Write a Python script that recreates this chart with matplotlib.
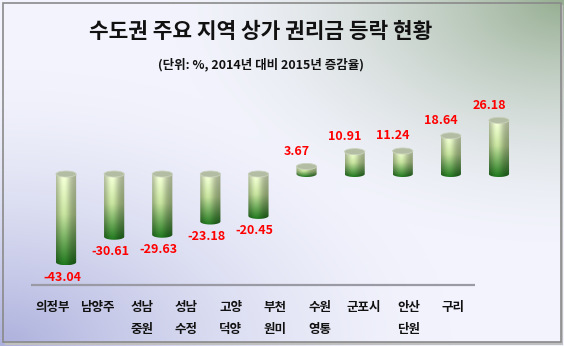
import numpy as np
import matplotlib
matplotlib.use("Agg")
import matplotlib.pyplot as plt
from matplotlib.path import Path
from matplotlib.patches import PathPatch, Ellipse, Rectangle

plt.rcParams['font.family'] = ['Noto Sans CJK KR', 'DejaVu Sans']

title = "수도권 주요 지역 상가 권리금 등락 현황"
subtitle = "(단위: %, 2014년 대비 2015년 증감율)"
regions = ["의정부", "남양주", "성남\n중원", "성남\n수정", "고양\n덕양",
           "부천\n원미", "수원\n영통", "군포시", "안산\n단원", "구리"]
values = [-43.04, -30.61, -29.63, -23.18, -20.45, 3.67, 10.91, 11.24, 18.64, 26.18]

W, H = 564, 346
fig = plt.figure(figsize=(W / 100, H / 100), dpi=100)

# background gradient
bg = fig.add_axes([0, 0, 1, 1])
bg.set_xlim(0, W)
bg.set_ylim(H, 0)
bg.axis('off')
yy, xx = np.mgrid[0:H, 0:W]
base = np.array([242, 243, 252], float)
green = np.array([150, 174, 145], float)
blue = np.array([172, 176, 220], float)
d_tr = np.hypot((xx - W) / W, yy / H)
d_bl = np.hypot(xx / W, (H - yy) / H)
wg = np.clip(1 - d_tr / 0.7, 0, 1) ** 1.7
wb = np.clip(1 - d_bl / 0.8, 0, 1) ** 1.6
img = base * (1 - wg[..., None]) + green * wg[..., None]
img = img * (1 - wb[..., None]) + blue * wb[..., None]
bg.imshow(img / 255, extent=[0, W, H, 0], aspect='auto', zorder=0)
bg.add_patch(Rectangle((5, 5), 558, 340, facecolor='#c0c0c0', edgecolor='none', zorder=1))
bg.imshow(img[3:342, 3:561] / 255, extent=[3, 561, 342, 3], aspect='auto', zorder=2)
bg.add_patch(Rectangle((3, 3), 558, 339, facecolor='none', edgecolor='#8a8a8a', lw=1.2, zorder=3))

bg.text(261, 32, title, ha='center', va='center', fontsize=15.4, fontweight='bold', color='#111111', zorder=5)
bg.text(261, 65, subtitle, ha='center', va='center', fontsize=9, fontweight='bold', color='#111111', zorder=5)

# bars
ax = fig.add_axes([42 / W, (H - 286.75) / H, 481 / W, 205 / H])
ax.set_xlim(-0.5, 9.5)
ax.set_ylim(-55, 45)
ax.axis('off')
ax.patch.set_alpha(0)

bw = 0.42
eh = 3.0 / 2.05  # ellipse half height in data units

top_c = np.array([232, 243, 205]) / 255
mid_c = np.array([186, 212, 148]) / 255
bot_c = np.array([30, 112, 28]) / 255
n = 200
t = np.linspace(0, 1, n)[:, None]
col = np.where(t < 0.45, top_c + (mid_c - top_c) * (t / 0.45),
               mid_c + (bot_c - mid_c) * ((t - 0.45) / 0.55))
u = np.linspace(0, 1, 60)
shade = 0.72 + 0.36 * np.exp(-((u - 0.38) / 0.3) ** 2)
grad = np.clip(col[:, None, :] * shade[None, :, None], 0, 1)

for i, v in enumerate(values):
    top, bot = max(v, 0), min(v, 0)
    x0, x1 = i - bw / 2, i + bw / 2
    th = np.linspace(np.pi, 2 * np.pi, 30)
    verts = [(x0, top), (x0, bot)]
    verts += [(i + bw / 2 * np.cos(a), bot + eh * np.sin(a)) for a in th]
    verts += [(x1, top), (x0, top)]
    codes = [Path.MOVETO] + [Path.LINETO] * (len(verts) - 2) + [Path.CLOSEPOLY]
    clip = PathPatch(Path(verts, codes), transform=ax.transData, facecolor='none', edgecolor='none')
    ax.add_patch(clip)
    im = ax.imshow(grad, extent=[x0, x1, bot - eh, top], aspect='auto', zorder=3, interpolation='bilinear')
    im.set_clip_path(clip)
    ax.add_patch(Ellipse((i, top), bw, 2 * eh, facecolor='#b3bda3', edgecolor='#c9d1bb', lw=0.6, zorder=4))
    if v < 0:
        ax.annotate(f"{v:.2f}", (i, bot - eh), xytext=(-3, -8.5), textcoords='offset points',
                    ha='center', va='center', color='#ff0000', fontsize=9, fontweight='bold')
    else:
        ax.annotate(f"{v:.2f}", (i, top), xytext=(-7, 11), textcoords='offset points',
                    ha='center', va='center', color='#ff0000', fontsize=9, fontweight='bold')

# floor and category labels
fl = fig.add_axes([31 / W, 0, 444 / W, 1])
fl.set_xlim(-0.5, 9.5)
fl.set_ylim(H, 0)
fl.axis('off')
fl.patch.set_alpha(0)
fl.plot([-0.5, 9.5], [285, 285], color='#9a9aa4', lw=1.6)
for i, name in enumerate(regions):
    for k, line in enumerate(name.split("\n")):
        fl.text(i, 307 + 23 * k, line, ha='center', va='center', fontsize=9, fontweight='bold', color='#111111')

fig.savefig("out.png", dpi=100)
